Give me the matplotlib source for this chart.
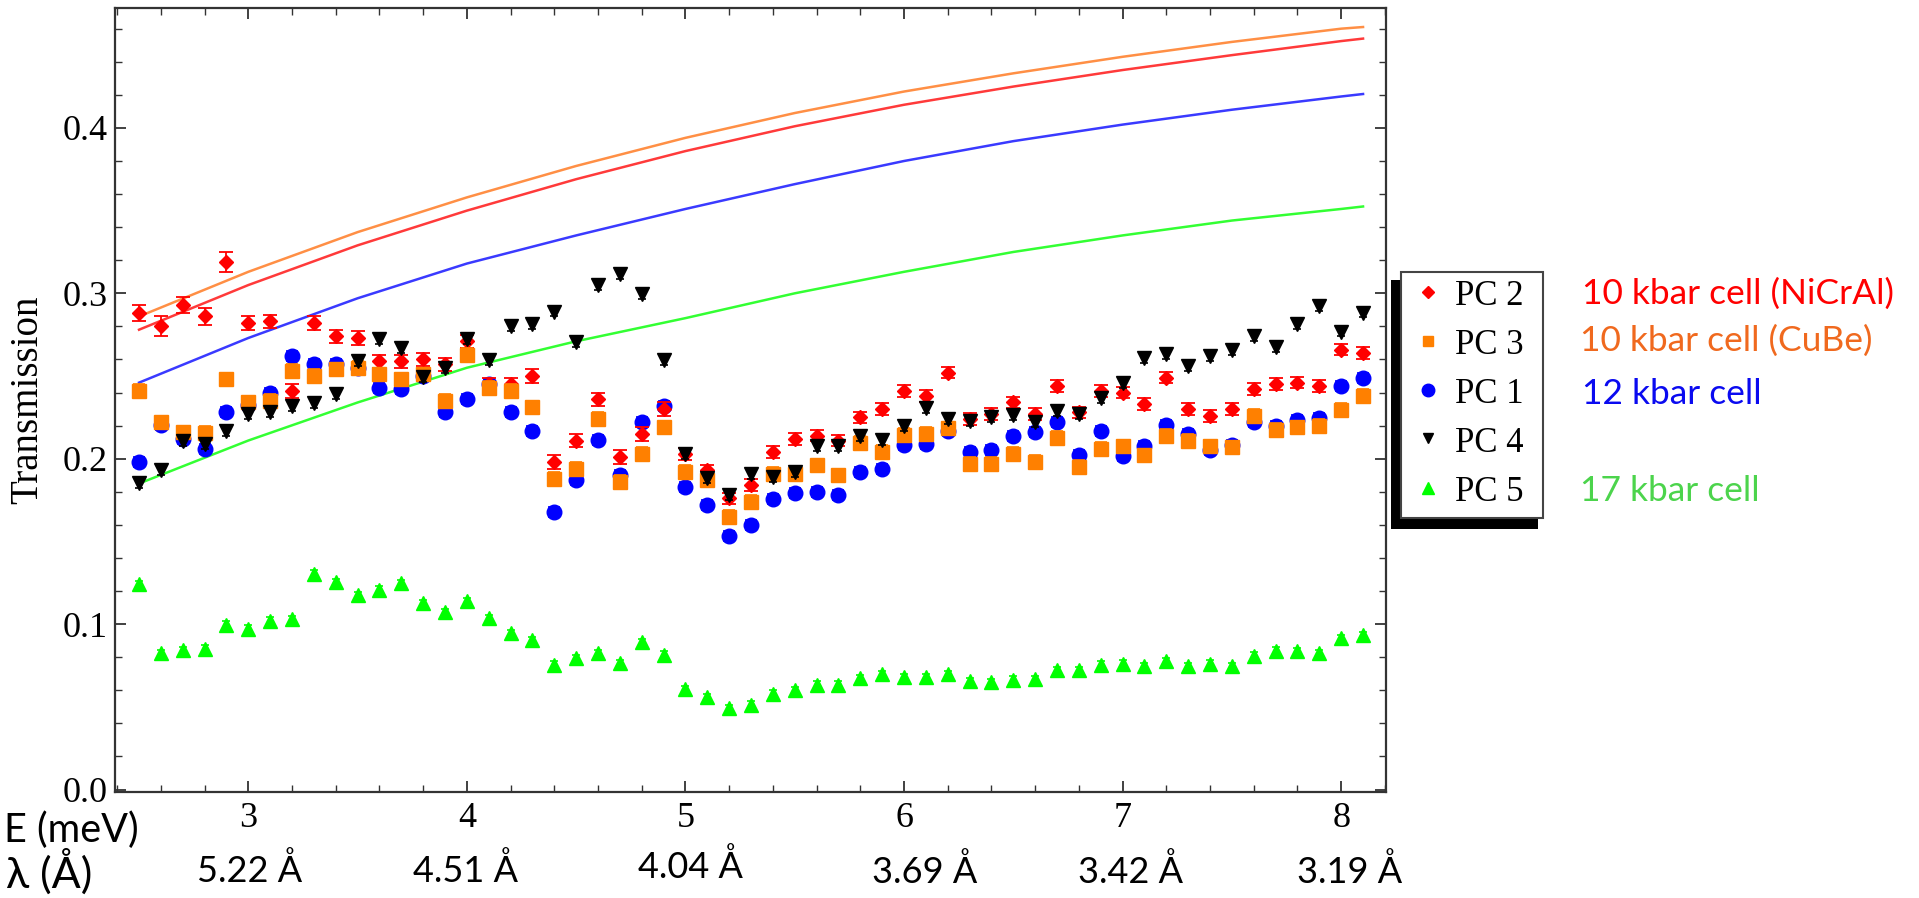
import matplotlib
matplotlib.use("Agg")
import matplotlib.pyplot as plt
from matplotlib.patches import Rectangle
from matplotlib.lines import Line2D
from matplotlib.ticker import MultipleLocator

# ---------------- data ----------------
energy = [2.5, 2.6, 2.7, 2.8, 2.9, 3.0, 3.1, 3.2, 3.3, 3.4,
          3.5, 3.6, 3.7, 3.8, 3.9, 4.0, 4.1, 4.2, 4.3, 4.4,
          4.5, 4.6, 4.7, 4.8, 4.9, 5.0, 5.1, 5.2, 5.3, 5.4,
          5.5, 5.6, 5.7, 5.8, 5.9, 6.0, 6.1, 6.2, 6.3, 6.4,
          6.5, 6.6, 6.7, 6.8, 6.9, 7.0, 7.1, 7.2, 7.3, 7.4,
          7.5, 7.6, 7.7, 7.8, 7.9, 8.0, 8.1]

pc2 = [0.288, 0.280, 0.293, 0.286, 0.319, 0.282, 0.283, 0.241, 0.282, 0.274,
       0.273, 0.259, 0.259, 0.260, 0.257, 0.271, 0.245, 0.245, 0.250, 0.198,
       0.211, 0.236, 0.201, 0.215, 0.230, 0.203, 0.193, 0.176, 0.184, 0.204,
       0.212, 0.214, 0.211, 0.225, 0.230, 0.241, 0.238, 0.252, 0.224, 0.227,
       0.234, 0.227, 0.244, 0.228, 0.241, 0.240, 0.233, 0.249, 0.230, 0.226,
       0.230, 0.242, 0.245, 0.246, 0.244, 0.266, 0.264]
pc3 = [0.241, 0.222, 0.216, 0.2155, 0.248, 0.234, 0.235, 0.253, 0.250, 0.254,
       0.255, 0.251, 0.248, 0.251, 0.235, 0.263, 0.243, 0.241, 0.231, 0.188,
       0.194, 0.224, 0.186, 0.203, 0.219, 0.192, 0.187, 0.165, 0.174, 0.191,
       0.191, 0.196, 0.190, 0.2095, 0.204, 0.2145, 0.215, 0.2185, 0.197, 0.197,
       0.203, 0.198, 0.2125, 0.195, 0.206, 0.2075, 0.202, 0.214, 0.211, 0.2075,
       0.207, 0.226, 0.2175, 0.219, 0.220, 0.2295, 0.238]
pc1 = [0.198, 0.2205, 0.212, 0.206, 0.228, 0.2326, 0.240, 0.262, 0.257, 0.257,
       0.255, 0.243, 0.242, 0.250, 0.228, 0.236, 0.245, 0.228, 0.2165, 0.168,
       0.187, 0.2115, 0.190, 0.222, 0.2316, 0.183, 0.172, 0.153, 0.160, 0.1757,
       0.179, 0.1796, 0.178, 0.192, 0.194, 0.208, 0.209, 0.217, 0.204, 0.205,
       0.214, 0.216, 0.222, 0.202, 0.2165, 0.2014, 0.2075, 0.2205, 0.215, 0.2054,
       0.2085, 0.222, 0.220, 0.2236, 0.2246, 0.244, 0.249]
pc4 = [0.1853, 0.1934, 0.2105, 0.209, 0.2165, 0.227, 0.228, 0.2316, 0.2337, 0.2393,
       0.2588, 0.2723, 0.2669, 0.2493, 0.2548, 0.2723, 0.2598, 0.280, 0.2816, 0.289,
       0.2703, 0.3051, 0.3118, 0.2997, 0.2594, 0.2028, 0.1883, 0.1782, 0.1907, 0.1889,
       0.192, 0.2075, 0.2075, 0.2139, 0.2115, 0.2195, 0.2306, 0.2242, 0.2226, 0.2252,
       0.2266, 0.222, 0.2286, 0.2272, 0.2367, 0.2457, 0.2608, 0.2634, 0.2558, 0.2618,
       0.2659, 0.2739, 0.2675, 0.2816, 0.2924, 0.2769, 0.2884]
pc5 = [0.124, 0.0826, 0.0842, 0.0852, 0.0997, 0.0973, 0.1021, 0.1031, 0.1305, 0.1255,
       0.1174, 0.1208, 0.1249, 0.1128, 0.1071, 0.1138, 0.1037, 0.0947, 0.0902, 0.0755,
       0.0796, 0.0826, 0.0765, 0.0892, 0.0816, 0.0608, 0.056, 0.0494, 0.0514, 0.058,
       0.060, 0.0634, 0.0634, 0.0675, 0.0699, 0.0681, 0.0681, 0.0699, 0.0655, 0.0649,
       0.0665, 0.0669, 0.0721, 0.0721, 0.0755, 0.0761, 0.0745, 0.0775, 0.0745, 0.0761,
       0.0745, 0.081, 0.084, 0.0836, 0.0826, 0.0917, 0.0932]

# estimated error bar half-heights
pc2_err = [0.005, 0.006, 0.005, 0.005, 0.006, 0.004, 0.004, 0.004, 0.004, 0.004,
           0.004, 0.004, 0.004, 0.004, 0.004, 0.004, 0.004, 0.004, 0.004, 0.004,
           0.004, 0.004, 0.004, 0.004, 0.004, 0.0035, 0.0035, 0.0035, 0.0035, 0.0035,
           0.0035, 0.0035, 0.0035, 0.0035, 0.0035, 0.0035, 0.0035, 0.0035, 0.0035, 0.0035,
           0.0035, 0.0035, 0.0035, 0.0035, 0.0035, 0.0035, 0.0035, 0.0035, 0.0035, 0.0035,
           0.0035, 0.0035, 0.0035, 0.0035, 0.0035, 0.0035, 0.0035]
pc3_err = 0.004
pc1_err = 0.003
pc4_err = 0.003
pc5_err = 0.002

# calculated transmission curves
curve_e = [2.5, 3.0, 3.5, 4.0, 4.5, 5.0, 5.5, 6.0, 6.5, 7.0, 7.5, 8.0, 8.1]
curve_cube = [0.286, 0.313, 0.337, 0.358, 0.377, 0.394, 0.409, 0.422, 0.433, 0.443, 0.452, 0.460, 0.461]
curve_nicral = [0.278, 0.305, 0.329, 0.350, 0.369, 0.386, 0.401, 0.414, 0.425, 0.435, 0.444, 0.4525, 0.454]
curve_12kbar = [0.246, 0.273, 0.297, 0.318, 0.335, 0.351, 0.366, 0.380, 0.392, 0.402, 0.411, 0.419, 0.4205]
curve_17kbar = [0.185, 0.211, 0.234, 0.255, 0.271, 0.285, 0.300, 0.313, 0.325, 0.335, 0.344, 0.351, 0.3525]

x_ticks = [3, 4, 5, 6, 7, 8]
y_ticks = [0.0, 0.1, 0.2, 0.3, 0.4]
y_tick_labels = ["0.0", "0.1", "0.2", "0.3", "0.4"]
lambda_labels = ["5.22 Å", "4.51 Å", "4.04 Å", "3.69 Å", "3.42 Å", "3.19 Å"]
legend_names = ["PC 2", "PC 3", "PC 1", "PC 4", "PC 5"]
cell_names = ["10 kbar cell (NiCrAl)", "10 kbar cell (CuBe)", "12 kbar cell", "17 kbar cell"]

# ---------------- figure ----------------
W, H = 1919, 898
fig = plt.figure(figsize=(W / 100, H / 100), dpi=100)


def fx(x):
    return x / W


def fy(y):
    return 1 - y / H


SERIF = ["Liberation Serif", "DejaVu Serif"]
SANS = ["Lato", "DejaVu Sans"]

ax = fig.add_axes([fx(115), fy(792), fx(1386) - fx(115), fy(8) - fy(792)])
ax.set_xlim(2.39, 8.205)
ax.set_ylim(-0.0015, 0.4725)

c_red, c_orange, c_blue, c_black, c_green = "#FF0000", "#FF8000", "#0000FF", "#000000", "#00FF00"

# curves
ax.plot(curve_e, curve_cube, color="#FF8F45", lw=1.8, zorder=2)
ax.plot(curve_e, curve_nicral, color="#FF3A3A", lw=1.8, zorder=2)
ax.plot(curve_e, curve_12kbar, color="#3A3AFF", lw=1.8, zorder=2)
ax.plot(curve_e, curve_17kbar, color="#33FF33", lw=1.8, zorder=2)

# data points
ax.errorbar(energy, pc1, yerr=pc1_err, fmt="o", ms=10.5, color=c_blue, mec=c_blue,
            elinewidth=1.2, capsize=4, capthick=1.2, zorder=3)
ax.errorbar(energy, pc2, yerr=pc2_err, fmt="D", ms=7.5, color=c_red, mec=c_red,
            elinewidth=1.3, capsize=5, capthick=1.3, zorder=4)
ax.errorbar(energy, pc3, yerr=pc3_err, fmt="s", ms=9.5, color=c_orange, mec=c_orange,
            elinewidth=1.2, capsize=4, capthick=1.2, zorder=5)
ax.errorbar(energy, pc4, yerr=pc4_err, fmt="v", ms=10, color=c_black, mec=c_black,
            elinewidth=1.2, capsize=3, capthick=1.2, zorder=6)
ax.errorbar(energy, pc5, yerr=pc5_err, fmt="^", ms=10, color=c_green, mec=c_green,
            elinewidth=1.2, capsize=3, capthick=1.2, zorder=7)

# axes styling
for sp in ax.spines.values():
    sp.set_color("#333333")
    sp.set_linewidth(1.6)
ax.set_xticks(x_ticks)
ax.set_xticklabels([str(t) for t in x_ticks])
ax.set_yticks(y_ticks)
ax.set_yticklabels(y_tick_labels)
ax.xaxis.set_minor_locator(MultipleLocator(0.2))
ax.yaxis.set_minor_locator(MultipleLocator(0.02))
ax.tick_params(which="both", direction="in", top=True, right=True, color="#333333")
ax.tick_params(which="major", length=8, width=1.3)
ax.tick_params(which="minor", length=5, width=1.0)
ax.tick_params(axis="x", which="major", pad=7, labelsize=26)
ax.tick_params(axis="y", which="major", pad=5, labelsize=26)
for lab in ax.get_xticklabels() + ax.get_yticklabels():
    lab.set_fontfamily(SERIF)

fig.text(fx(28), fy(400), "Transmission", rotation=90, ha="center", va="center",
         fontsize=28, family=SERIF)

# bottom energy / wavelength annotations
fig.text(fx(4), fy(842), "E (meV)", ha="left", va="baseline", fontsize=28.5, family=SANS)
fig.text(fx(6), fy(888), "λ (Å)", ha="left", va="baseline", fontsize=31, family=SANS)
lam_x = [250, 465, 690, 925, 1130, 1350]
lam_base = [882, 882, 878, 883, 883, 883]
for lx, lb, txt in zip(lam_x, lam_base, lambda_labels):
    fig.text(fx(lx), fy(lb), txt, ha="center", va="baseline", fontsize=26, family=SANS)

# legend box with shadow
fig.add_artist(Rectangle((fx(1391), fy(529)), fx(147), 249 / H, transform=fig.transFigure,
                         facecolor="black", edgecolor="none", zorder=10))
fig.add_artist(Rectangle((fx(1401), fy(518)), fx(142), 246 / H, transform=fig.transFigure,
                         facecolor="white", edgecolor="#444444", lw=1.5, zorder=11))
leg_markers = [("D", c_red, 6), ("s", c_orange, 7.5), ("o", c_blue, 9), ("v", c_black, 7.5), ("^", c_green, 8)]
leg_marker_y = [292, 341, 390, 438, 488]
leg_text_base = [305, 354, 403, 452, 501]
for (m, c, s), my, tb, name in zip(leg_markers, leg_marker_y, leg_text_base, legend_names):
    fig.add_artist(Line2D([fx(1428)], [fy(my)], marker=m, color=c, ms=s, ls="none",
                          transform=fig.transFigure, zorder=12))
    fig.text(fx(1455), fy(tb), name, ha="left", va="baseline", fontsize=25, family=SERIF, zorder=12)

# cell descriptions
cell_colors = ["#FF0000", "#F0691E", "#0A0AF0", "#4CD44C"]
cell_x = [1582, 1580, 1582, 1580]
cell_base = [304, 351, 404, 501]
for name, c, cx, cb in zip(cell_names, cell_colors, cell_x, cell_base):
    fig.text(fx(cx), fy(cb), name, ha="left", va="baseline", fontsize=25.5, family=SANS, color=c)

fig.savefig("out.png", dpi=100)
